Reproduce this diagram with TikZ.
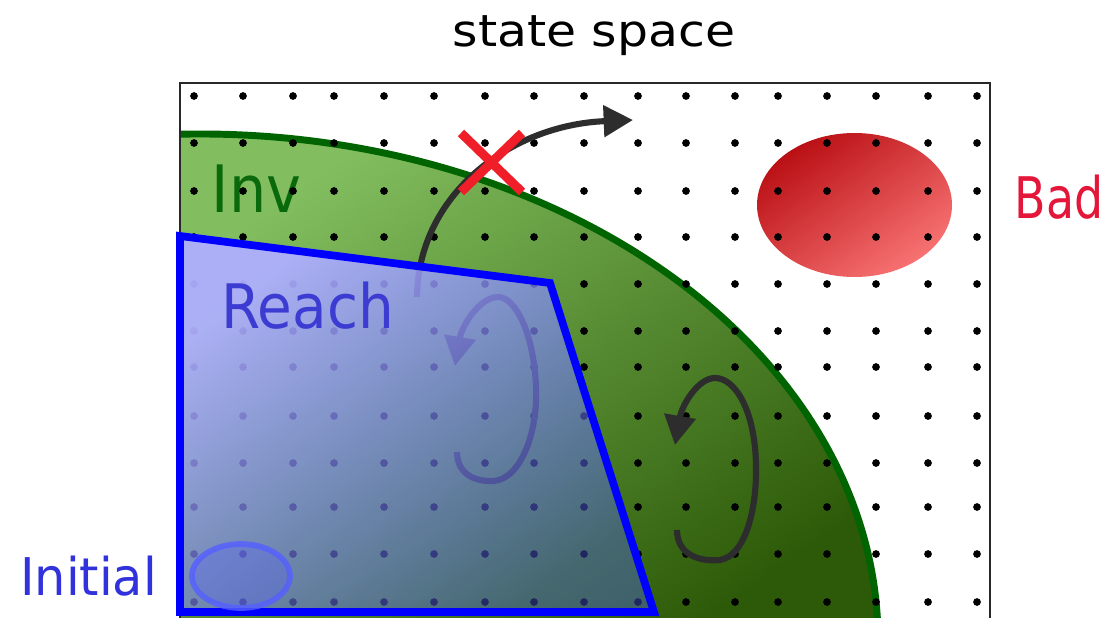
\documentclass[tikz,border=0pt]{standalone}
\usepackage{fontspec}
\newfontfamily\djv{DejaVu Sans}
\usetikzlibrary{arrows.meta,fadings}
\definecolor{greenA}{RGB}{130,190,95}
\definecolor{greenB}{RGB}{45,90,8}
\definecolor{invline}{RGB}{0,100,0}
\definecolor{invtext}{RGB}{10,105,10}
\definecolor{reachA}{RGB}{175,175,255}
\definecolor{reachB}{RGB}{80,95,240}
\definecolor{reachline}{RGB}{0,0,255}
\definecolor{reachtext}{RGB}{60,60,210}
\definecolor{inittext}{RGB}{50,50,220}
\definecolor{initline}{RGB}{85,95,255}
\definecolor{badA}{RGB}{185,15,20}
\definecolor{badB}{RGB}{248,115,115}
\definecolor{badtext}{RGB}{228,22,58}
\definecolor{crossred}{RGB}{240,30,40}
\definecolor{arrowgray}{RGB}{45,45,45}
\definecolor{boxline}{RGB}{40,40,40}
\tikzfading[name=reachfade, top color=transparent!6, bottom color=transparent!60]
\tikzset{
  flow/.style={line width=4.6pt, color=arrowgray, -{Triangle[length=22pt,width=23pt]}},
  dotmark/.style={fill=black},
  label/.style={inner sep=0pt, anchor=base},
}
\begin{document}
\begin{tikzpicture}[x=0.75pt,y=-0.75pt]
\useasboundingbox (0,0) rectangle (1109,617);
\clip (0,0) rectangle (1109,617);
\fill[white] (0,0) rectangle (1109,617);
% invariant region
\shade[top color=greenA, bottom color=greenB, shading angle=35]
  (180,134.2) arc[start angle=-91.69, end angle=0, x radius=678, y radius=506]
  -- (180,640) -- cycle;
% bad region
\shade[top color=badA, bottom color=badB, shading angle=35] (854.5,205) ellipse [x radius=97.5, y radius=72];
% invariant boundary
\draw[invline, line width=5.2pt]
  (180,134.2) arc[start angle=-91.69, end angle=0, x radius=678, y radius=506];
\node[label, font=\djv\fontsize{49pt}{49pt}\selectfont, text=invtext, xscale=0.9] (inv) at (256.5,212) {Inv};
% grid of states
\foreach \x in {194,243,293,334,384,434,485,534,584,638,686,735,778,827,876,928,977}
  \foreach \y in {96,143,191,237,284,331,367,416,463,507,554,602}
    \fill[dotmark] (\x,\y) circle[radius=2.9pt];
% trajectories
\draw[flow] (417,297) .. controls (418,195) and (510,125) .. (633,120);
\draw[flow] (457,452) .. controls (457,476) and (478,482) .. (494,481)
  .. controls (522,478) and (538,430) .. (536,387)
  .. controls (534,335) and (516,297) .. (498,297)
  .. controls (480,297) and (462,325) .. (455,366);
\draw[flow] (677,530) .. controls (677,555) and (700,562) .. (720,560)
  .. controls (745,556) and (757,510) .. (756,465)
  .. controls (755,410) and (735,378) .. (715,378)
  .. controls (698,378) and (682,405) .. (675,445);
% state space box
\draw[boxline, line width=1.6pt] (180,650) -- (180,83) -- (990,83) -- (990,650);
% reachable set
\shade[top color=reachA, bottom color=reachB, shading angle=40, path fading=reachfade, fading angle=40]
  (180,236) -- (550,283) -- (654,612) -- (180,612) -- cycle;
\draw[reachline, line width=5.8pt, line join=miter] (180,236) -- (550,283) -- (654,612) -- (180,612) -- cycle;
% initial set
\draw[initline, draw opacity=0.8, line width=4.3pt, fill=initline, fill opacity=0.3] (241,576) ellipse [x radius=49, y radius=32];
% labels
\node[label, font=\djv\fontsize{33pt}{33pt}\selectfont, text=black, xscale=1.11] (title) at (594,47) {state space};
\node[label, font=\djv\fontsize{43pt}{43pt}\selectfont, text=badtext, xscale=0.8] (bad) at (1059,218) {Bad};
\node[label, font=\djv\fontsize{46pt}{46pt}\selectfont, text=reachtext, xscale=0.92] (reach) at (307.5,328) {Reach};
\node[label, font=\djv\fontsize{39pt}{39pt}\selectfont, text=inittext, xscale=0.95] (initial) at (88.5,595) {Initial};
% blocked transition
\draw[crossred, line width=6.8pt] (461,133) -- (522,192);
\draw[crossred, line width=6.8pt] (522,133) -- (461,192);
\end{tikzpicture}
\end{document}
